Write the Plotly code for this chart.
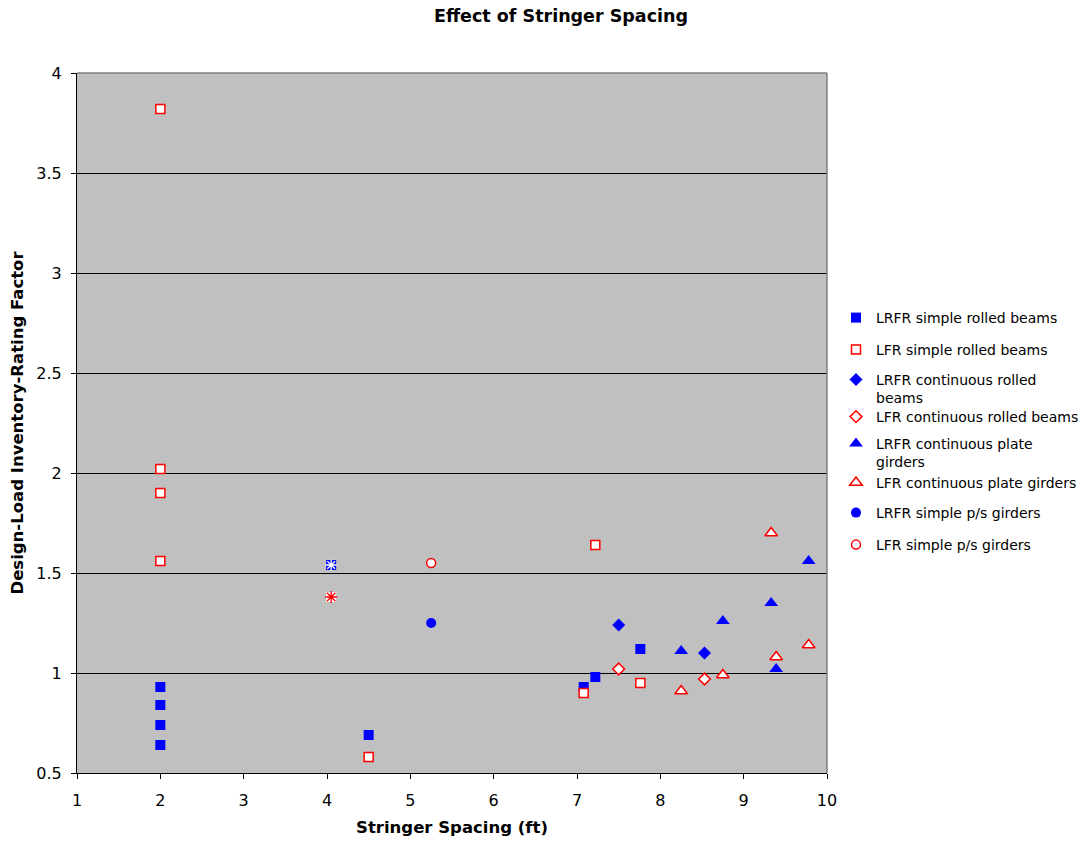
import plotly.graph_objects as go

# ---- data ----
lrfr_srb_x = [2, 2, 2, 2, 4.5, 7.08, 7.22, 7.76]
lrfr_srb_y = [0.93, 0.84, 0.74, 0.64, 0.69, 0.93, 0.98, 1.12]
lfr_srb_x = [2, 2, 2, 2, 4.5, 7.08, 7.22, 7.76]
lfr_srb_y = [3.82, 2.02, 1.90, 1.56, 0.58, 0.90, 1.64, 0.95]
lrfr_crb_x = [7.5, 8.53]
lrfr_crb_y = [1.24, 1.10]
lfr_crb_x = [7.5, 8.53]
lfr_crb_y = [1.02, 0.97]
lrfr_cpg_x = [8.25, 8.75, 9.33, 9.39, 9.78]
lrfr_cpg_y = [1.11, 1.26, 1.35, 1.02, 1.56]
lfr_cpg_x = [8.25, 8.75, 9.33, 9.39, 9.78]
lfr_cpg_y = [0.91, 0.99, 1.70, 1.08, 1.14]
lrfr_sps_x = [5.25]
lrfr_sps_y = [1.25]
lfr_sps_x = [5.25]
lfr_sps_y = [1.55]
lrfr_other_x = [4.05]
lrfr_other_y = [1.54]
lfr_other_x = [4.05]
lfr_other_y = [1.38]

names = [
    "LRFR simple rolled beams",
    "LFR simple rolled beams",
    "LRFR continuous rolled<br>beams",
    "LFR continuous rolled beams",
    "LRFR continuous plate<br>girders",
    "LFR continuous plate girders",
    "LRFR simple p/s girders",
    "LFR simple p/s girders",
]

BLUE = "#0000FF"
RED = "#FF0000"
FONT = "DejaVu Sans"

fig = go.Figure()

series = [
    (lrfr_srb_x, lrfr_srb_y, dict(symbol="square", size=10, color=BLUE, line=dict(width=0))),
    (lfr_srb_x, lfr_srb_y, dict(symbol="square", size=9, color="white", line=dict(color=RED, width=1.5))),
    (lrfr_crb_x, lrfr_crb_y, dict(symbol="diamond", size=10, color=BLUE, line=dict(width=0))),
    (lfr_crb_x, lfr_crb_y, dict(symbol="diamond", size=9, color="white", line=dict(color=RED, width=1.5))),
    (lrfr_cpg_x, lrfr_cpg_y, dict(symbol="triangle-up", size=12, color=BLUE, line=dict(width=0))),
    (lfr_cpg_x, lfr_cpg_y, dict(symbol="triangle-up", size=11, color="white", line=dict(color=RED, width=1.5))),
    (lrfr_sps_x, lrfr_sps_y, dict(symbol="circle", size=10, color=BLUE, line=dict(width=0))),
    (lfr_sps_x, lfr_sps_y, dict(symbol="circle", size=9, color="white", line=dict(color=RED, width=1.5))),
]

legend_py = [318, 350, 380, 417, 444, 483, 513, 545]

for i, ((xs, ys, mk), nm) in enumerate(zip(series, names)):
    lg = "legend" if i == 0 else f"legend{i+1}"
    fig.add_trace(go.Scatter(x=xs, y=ys, mode="markers", name=nm, marker=mk,
                             legend=lg, showlegend=True))

# unlabelled star-marked points
fig.add_trace(go.Scatter(x=lrfr_other_x, y=lrfr_other_y, mode="markers", showlegend=False,
                         marker=dict(symbol="square", size=10, color=BLUE, line=dict(width=0))))
fig.add_trace(go.Scatter(x=lrfr_other_x, y=lrfr_other_y, mode="markers", showlegend=False,
                         marker=dict(symbol="asterisk-open", size=9, color="white",
                                     line=dict(color="white", width=1.3))))
fig.add_trace(go.Scatter(x=lfr_other_x, y=lfr_other_y, mode="markers", showlegend=False,
                         marker=dict(symbol="square", size=10, color="white", line=dict(width=0))))
fig.add_trace(go.Scatter(x=lfr_other_x, y=lfr_other_y, mode="markers", showlegend=False,
                         marker=dict(symbol="asterisk-open", size=10, color=RED,
                                     line=dict(color=RED, width=1.3))))

legend_common = dict(xref="container", yref="container", x=836 / 1092, xanchor="left",
                     yanchor="top", bgcolor="rgba(0,0,0,0)", borderwidth=0,
                     font=dict(family=FONT, size=14, color="black"),
                     valign="top")
layout_legends = {}
for i, py in enumerate(legend_py):
    key = "legend" if i == 0 else f"legend{i+1}"
    layout_legends[key] = dict(legend_common, y=1 - (py - 16) / 841)

fig.update_layout(
    width=1092, height=841,
    margin=dict(l=77, r=265, t=73, b=68, autoexpand=False),
    paper_bgcolor="white",
    plot_bgcolor="#C0C0C0",
    font=dict(family=FONT, size=13, color="black"),
    title=dict(text="<b>Effect of Stringer Spacing</b>", x=561 / 1092, xanchor="center",
               xref="container", y=1 - 16 / 841, yanchor="middle", yref="container",
               font=dict(family=FONT, size=17.5, color="black")),
    xaxis=dict(range=[1, 10], tickmode="array", tickvals=list(range(1, 11)),
               showgrid=False, zeroline=False, showline=True, linecolor="black", linewidth=1,
               ticks="outside", ticklen=5, tickcolor="black",
               tickfont=dict(family=FONT, size=16), ticklabelstandoff=8,
               title=dict(text="<b>Stringer Spacing (ft)</b>", font=dict(family=FONT, size=16.5),
                          standoff=12),
               automargin=False, mirror=False),
    yaxis=dict(range=[0.5, 4], tickmode="array", tickvals=[0.5, 1, 1.5, 2, 2.5, 3, 3.5, 4],
               ticktext=["0.5", "1", "1.5", "2", "2.5", "3", "3.5", "4"],
               showgrid=True, gridcolor="black", gridwidth=1, zeroline=False,
               showline=True, linecolor="black", linewidth=1,
               ticks="outside", ticklen=5, tickcolor="black",
               tickfont=dict(family=FONT, size=16), ticklabelstandoff=6,
               title=dict(text="<b>Design-Load Inventory-Rating Factor</b>",
                          font=dict(family=FONT, size=16.5), standoff=8),
               automargin=False),
    **layout_legends,
)

# gray top/right border of the plot area
fig.add_shape(type="line", xref="paper", yref="paper", x0=0, x1=1, y0=1, y1=1,
              line=dict(color="#808080", width=1.5))
fig.add_shape(type="line", xref="paper", yref="paper", x0=1, x1=1, y0=0, y1=1,
              line=dict(color="#808080", width=1.5))

fig.write_html("out.html")
